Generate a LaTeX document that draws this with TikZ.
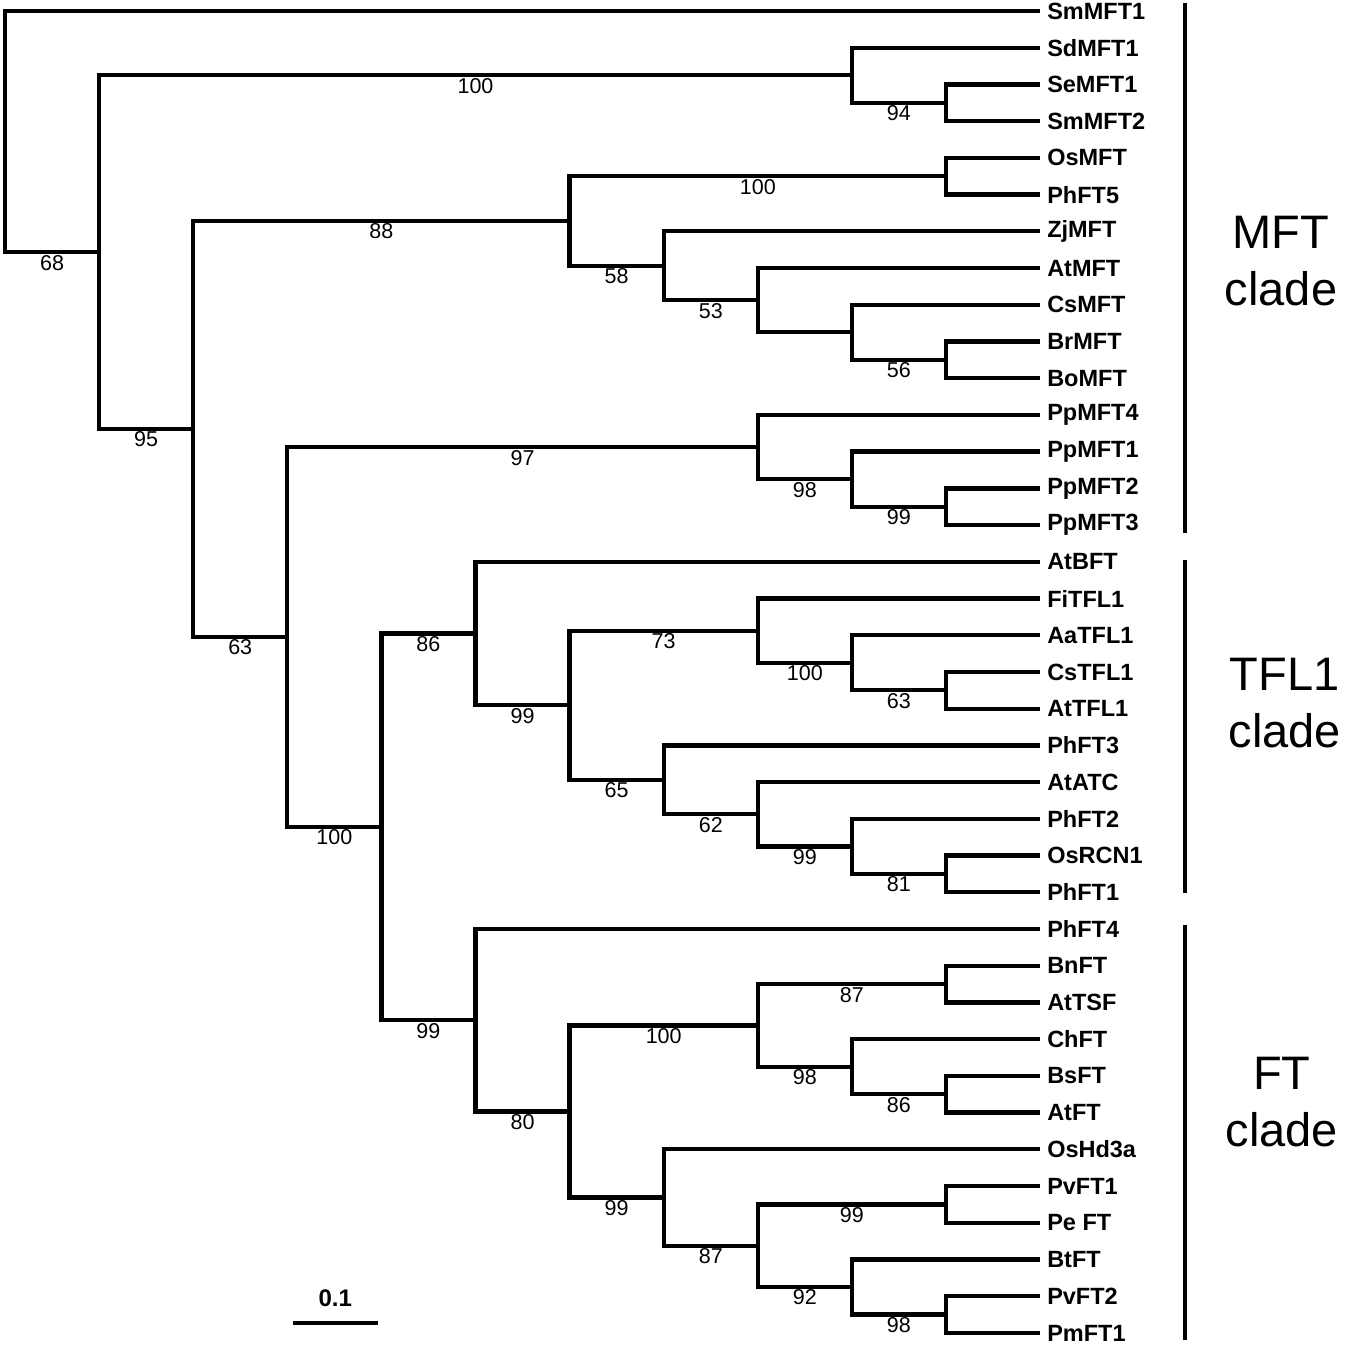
\documentclass[tikz,border=0pt]{standalone}
\usepackage{fontspec}
\setmainfont{Liberation Sans}
\begin{document}
\begin{tikzpicture}[x=94.1pt, y=-36.72pt, line width=4.3pt,
    leaf/.style={anchor=west, inner xsep=5pt, inner ysep=0pt, font=\fontsize{23.5}{27}\selectfont\bfseries},
    boot/.style={pos=.75, below, inner sep=0.8pt, font=\fontsize{21.5}{25}\selectfont},
    cladename/.style={align=center, font=\fontsize{47}{57}\selectfont}]
    \useasboundingbox (-0.0531,-0.2996) rectangle (14.240,36.329);
    % leaves, one per row
    \foreach \name/\txt [count=\i from 0] in {SmMFT1/SmMFT1, SdMFT1/SdMFT1, SeMFT1/SeMFT1, SmMFT2/SmMFT2,
        OsMFT/OsMFT, PhFT5/PhFT5, ZjMFT/ZjMFT, AtMFT/AtMFT, CsMFT/CsMFT, BrMFT/BrMFT, BoMFT/BoMFT,
        PpMFT4/PpMFT4, PpMFT1/PpMFT1, PpMFT2/PpMFT2, PpMFT3/PpMFT3,
        AtBFT/AtBFT, FiTFL1/FiTFL1, AaTFL1/AaTFL1, CsTFL1/CsTFL1, AtTFL1/AtTFL1, PhFT3/PhFT3,
        AtATC/AtATC, PhFT2/PhFT2, OsRCN1/OsRCN1, PhFT1/PhFT1,
        PhFT4/PhFT4, BnFT/BnFT, AtTSF/AtTSF, ChFT/ChFT, BsFT/BsFT, AtFT/AtFT, OsHd3a/OsHd3a,
        PvFT1/PvFT1, PeFT/Pe FT, BtFT/BtFT, PvFT2/PvFT2, PmFT1/PmFT1}
        \node[leaf] (\name) at (11,\i) {\txt};
    % inner nodes
    \coordinate (root) at (0,3.283);
    \coordinate (A) at (1,6.566);
    \coordinate (B) at (9,1.75);
    \coordinate (B2) at (10,2.5);
    \coordinate (C) at (2,11.383);
    \coordinate (D) at (6,5.719);
    \coordinate (D1) at (10,4.5);
    \coordinate (D2) at (7,6.938);
    \coordinate (D3) at (8,7.875);
    \coordinate (D4) at (9,8.75);
    \coordinate (D5) at (10,9.5);
    \coordinate (E) at (3,17.047);
    \coordinate (F) at (8,11.875);
    \coordinate (F1) at (9,12.75);
    \coordinate (F2) at (10,13.5);
    \coordinate (G) at (4,22.219);
    \coordinate (H) at (5,16.953);
    \coordinate (H1) at (6,18.906);
    \coordinate (H2) at (8,16.875);
    \coordinate (H2a) at (9,17.75);
    \coordinate (H2b) at (10,18.5);
    \coordinate (H3) at (7,20.938);
    \coordinate (H4) at (8,21.875);
    \coordinate (H5) at (9,22.75);
    \coordinate (H6) at (10,23.5);
    \coordinate (I) at (5,27.484);
    \coordinate (I1) at (6,29.969);
    \coordinate (I2) at (8,27.625);
    \coordinate (I2a) at (10,26.5);
    \coordinate (I2b) at (9,28.75);
    \coordinate (I2c) at (10,29.5);
    \coordinate (I3) at (7,32.313);
    \coordinate (I4) at (8,33.625);
    \coordinate (I4a) at (10,32.5);
    \coordinate (I4b) at (9,34.75);
    \coordinate (I4c) at (10,35.5);
    % branches
    \draw (root) |- (SmMFT1.west) (root) |- (A) node[boot] {68};
    \draw (A) |- (B) node[boot] {100} (A) |- (C) node[boot] {95};
    \draw (B) |- (SdMFT1.west) (B) |- (B2) node[boot] {94};
    \draw (B2) |- (SeMFT1.west) (B2) |- (SmMFT2.west);
    \draw (C) |- (D) node[boot] {88} (C) |- (E) node[boot] {63};
    \draw (D) |- (D1) node[boot] {100} (D) |- (D2) node[boot] {58};
    \draw (D1) |- (OsMFT.west) (D1) |- (PhFT5.west);
    \draw (D2) |- (ZjMFT.west) (D2) |- (D3) node[boot] {53};
    \draw (D3) |- (AtMFT.west) (D3) |- (D4);
    \draw (D4) |- (CsMFT.west) (D4) |- (D5) node[boot] {56};
    \draw (D5) |- (BrMFT.west) (D5) |- (BoMFT.west);
    \draw (E) |- (F) node[boot] {97} (E) |- (G) node[boot] {100};
    \draw (F) |- (PpMFT4.west) (F) |- (F1) node[boot] {98};
    \draw (F1) |- (PpMFT1.west) (F1) |- (F2) node[boot] {99};
    \draw (F2) |- (PpMFT2.west) (F2) |- (PpMFT3.west);
    \draw (G) |- (H) node[boot] {86} (G) |- (I) node[boot] {99};
    \draw (H) |- (AtBFT.west) (H) |- (H1) node[boot] {99};
    \draw (H1) |- (H2) node[boot] {73} (H1) |- (H3) node[boot] {65};
    \draw (H2) |- (FiTFL1.west) (H2) |- (H2a) node[boot] {100};
    \draw (H2a) |- (AaTFL1.west) (H2a) |- (H2b) node[boot] {63};
    \draw (H2b) |- (CsTFL1.west) (H2b) |- (AtTFL1.west);
    \draw (H3) |- (PhFT3.west) (H3) |- (H4) node[boot] {62};
    \draw (H4) |- (AtATC.west) (H4) |- (H5) node[boot] {99};
    \draw (H5) |- (PhFT2.west) (H5) |- (H6) node[boot] {81};
    \draw (H6) |- (OsRCN1.west) (H6) |- (PhFT1.west);
    \draw (I) |- (PhFT4.west) (I) |- (I1) node[boot] {80};
    \draw (I1) |- (I2) node[boot] {100} (I1) |- (I3) node[boot] {99};
    \draw (I2) |- (I2a) node[boot] {87} (I2) |- (I2b) node[boot] {98};
    \draw (I2a) |- (BnFT.west) (I2a) |- (AtTSF.west);
    \draw (I2b) |- (ChFT.west) (I2b) |- (I2c) node[boot] {86};
    \draw (I2c) |- (BsFT.west) (I2c) |- (AtFT.west);
    \draw (I3) |- (OsHd3a.west) (I3) |- (I4) node[boot] {87};
    \draw (I4) |- (I4a) node[boot] {99} (I4) |- (I4b) node[boot] {92};
    \draw (I4a) |- (PvFT1.west) (I4a) |- (PeFT.west);
    \draw (I4b) |- (BtFT.west) (I4b) |- (I4c) node[boot] {98};
    \draw (I4c) |- (PvFT2.west) (I4c) |- (PmFT1.west);
    % clade bars
    \draw (12.54,-0.22) -- (12.54,14.22);
    \draw (12.54,14.95) -- (12.54,24.01);
    \draw (12.54,24.89) -- (12.54,36.19);
    \node[cladename] (mft) at (13.56,6.81) {MFT\\clade};
    \node[cladename] (tfl) at (13.6,18.86) {TFL1\\clade};
    \node[cladename] (ft) at (13.57,29.70) {FT\\clade};
    % scale bar
    \draw (3.06,35.73) -- (3.96,35.73) node[midway, above=14pt, inner sep=0pt, font=\fontsize{24}{28}\selectfont\bfseries] (scale) {0.1};
\end{tikzpicture}
\end{document}
